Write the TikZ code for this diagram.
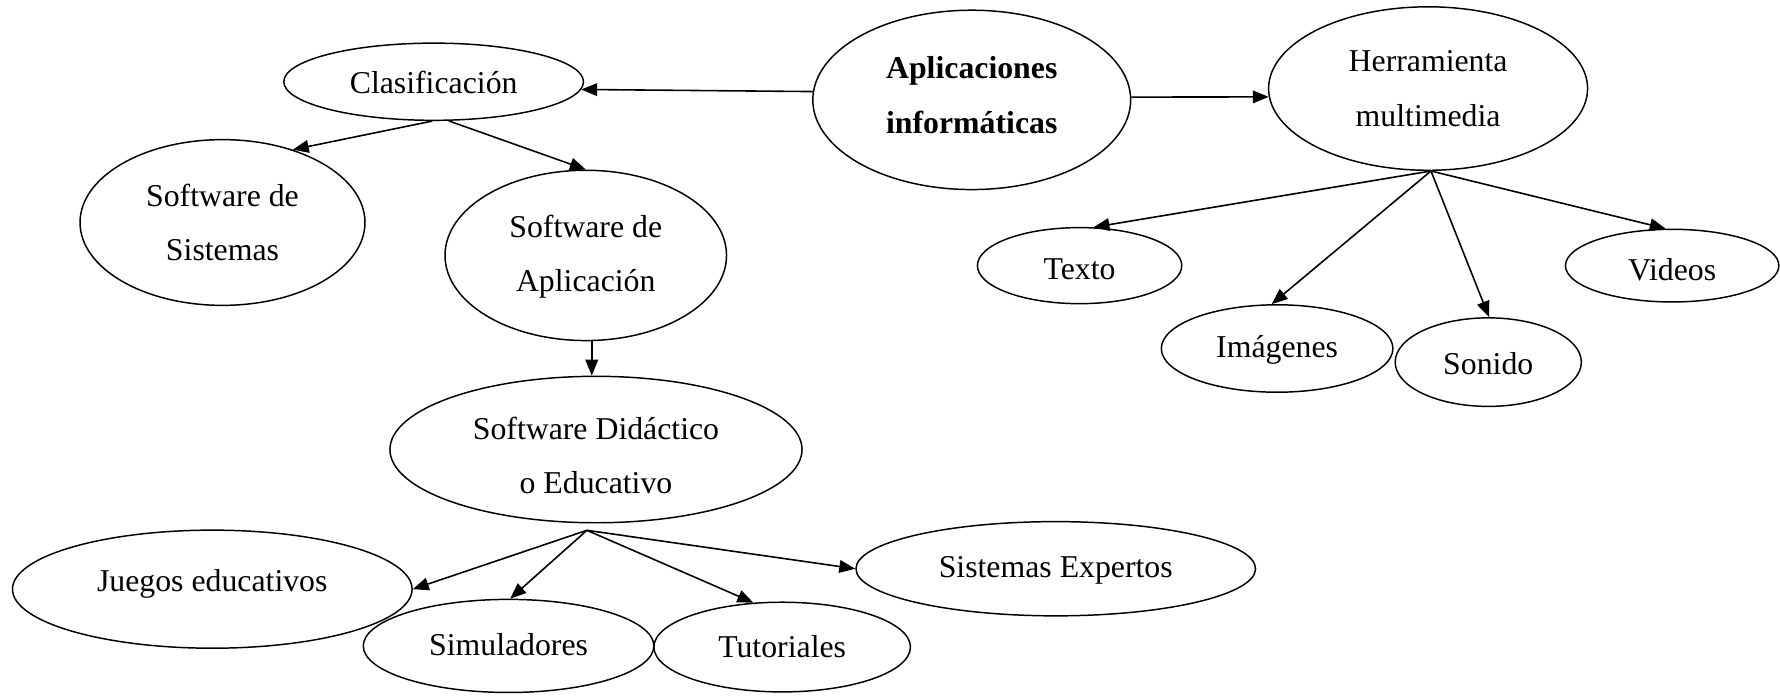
\documentclass[tikz,border=0pt]{standalone}
\usepackage{fontspec}
\setmainfont{Liberation Serif}
\usetikzlibrary{shapes.geometric,arrows.meta}

\tikzset{
  oval/.style={draw, ellipse, line width=0.65pt, inner sep=0pt},
  lbl/.style={align=center, inner sep=0pt, font=\fontsize{14}{24}\selectfont},
  % #1 = vertical offset of the caption from the ellipse centre
  say/.style 2 args={label={[lbl, yshift=#1]center:#2}},
  arr/.style={line width=0.7pt, -{Triangle[length=7pt,width=5.6pt]}},
}

\begin{document}
\begin{tikzpicture}[x=0.5pt, y=-0.5pt]
  \useasboundingbox (0,0) rectangle (1568,614);

  % central topic and its two branches
  \node[oval, minimum width=140pt, minimum height=79pt,
        say={2.2pt}{\textbf{Aplicaciones}\\\textbf{informáticas}}] (apl) at (856,88) {};
  \node[oval, minimum width=132pt, minimum height=34pt,
        say={-0.5pt}{Clasificación}] (clas) at (382,72) {};
  \node[oval, minimum width=140.5pt, minimum height=72pt,
        say={0pt}{Herramienta\\multimedia}] (hm) at (1258,78) {};

  % classification branch
  \node[oval, minimum width=125.5pt, minimum height=73pt,
        say={0pt}{Software de\\Sistemas}] (sss) at (196,196) {};
  \node[oval, minimum width=124pt, minimum height=75pt,
        say={-0.5pt}{Software de\\Aplicación}] (sap) at (516,225) {};
  \node[oval, minimum width=181.5pt, minimum height=64.5pt,
        say={-2.6pt}{Software Didáctico\\o Educativo}] (did) at (525,396) {};
  \node[oval, minimum width=176pt, minimum height=52pt,
        say={2.4pt}{Juegos educativos}] (jue) at (187,519) {};
  \node[oval, minimum width=128pt, minimum height=41pt,
        say={0.5pt}{Simuladores}] (sim) at (448,569) {};
  \node[oval, minimum width=113pt, minimum height=39.5pt,
        say={0pt}{Tutoriales}] (tut) at (689,570) {};
  \node[oval, minimum width=176pt, minimum height=41.5pt,
        say={-0.5pt}{Sistemas Expertos}] (sex) at (930,501) {};

  % multimedia branch
  \node[oval, minimum width=90pt, minimum height=33.5pt,
        say={-1.8pt}{Texto}] (tex) at (951,234) {};
  \node[oval, minimum width=102pt, minimum height=38.5pt,
        say={-0.5pt}{Imágenes}] (img) at (1125,307) {};
  \node[oval, minimum width=82pt, minimum height=39pt,
        say={-0.5pt}{Sonido}] (son) at (1311,319) {};
  \node[oval, minimum width=94pt, minimum height=32pt,
        say={-1.8pt}{Videos}] (vid) at (1473,234) {};

  % connectors
  \draw[arr] (apl.177) -- (clas.-3);
  \draw[arr] (apl.1) -- (hm.183);

  \draw[arr] (clas.-92) -- (sss.46);
  \draw[arr] (clas.-69) -- (sap.north);
  \draw[arr] (sap.-86) -- (sap.-86 |- did.north);

  \coordinate (dfork) at ([shift={(-8,6)}]did.south);
  \draw[arr] (dfork) -- (jue.east);
  \draw[arr] (dfork) -- (sim.88);
  \draw[arr] (dfork) -- (tut.123);
  \draw[arr] (dfork) -- (sex.west);

  \draw[arr] (hm.-88) -- (tex.70);
  \draw[arr] (hm.-88) -- (img.97);
  \draw[arr] (hm.-88) -- (son.89);
  \draw[arr] (hm.-88) -- (vid.100);
\end{tikzpicture}
\end{document}
